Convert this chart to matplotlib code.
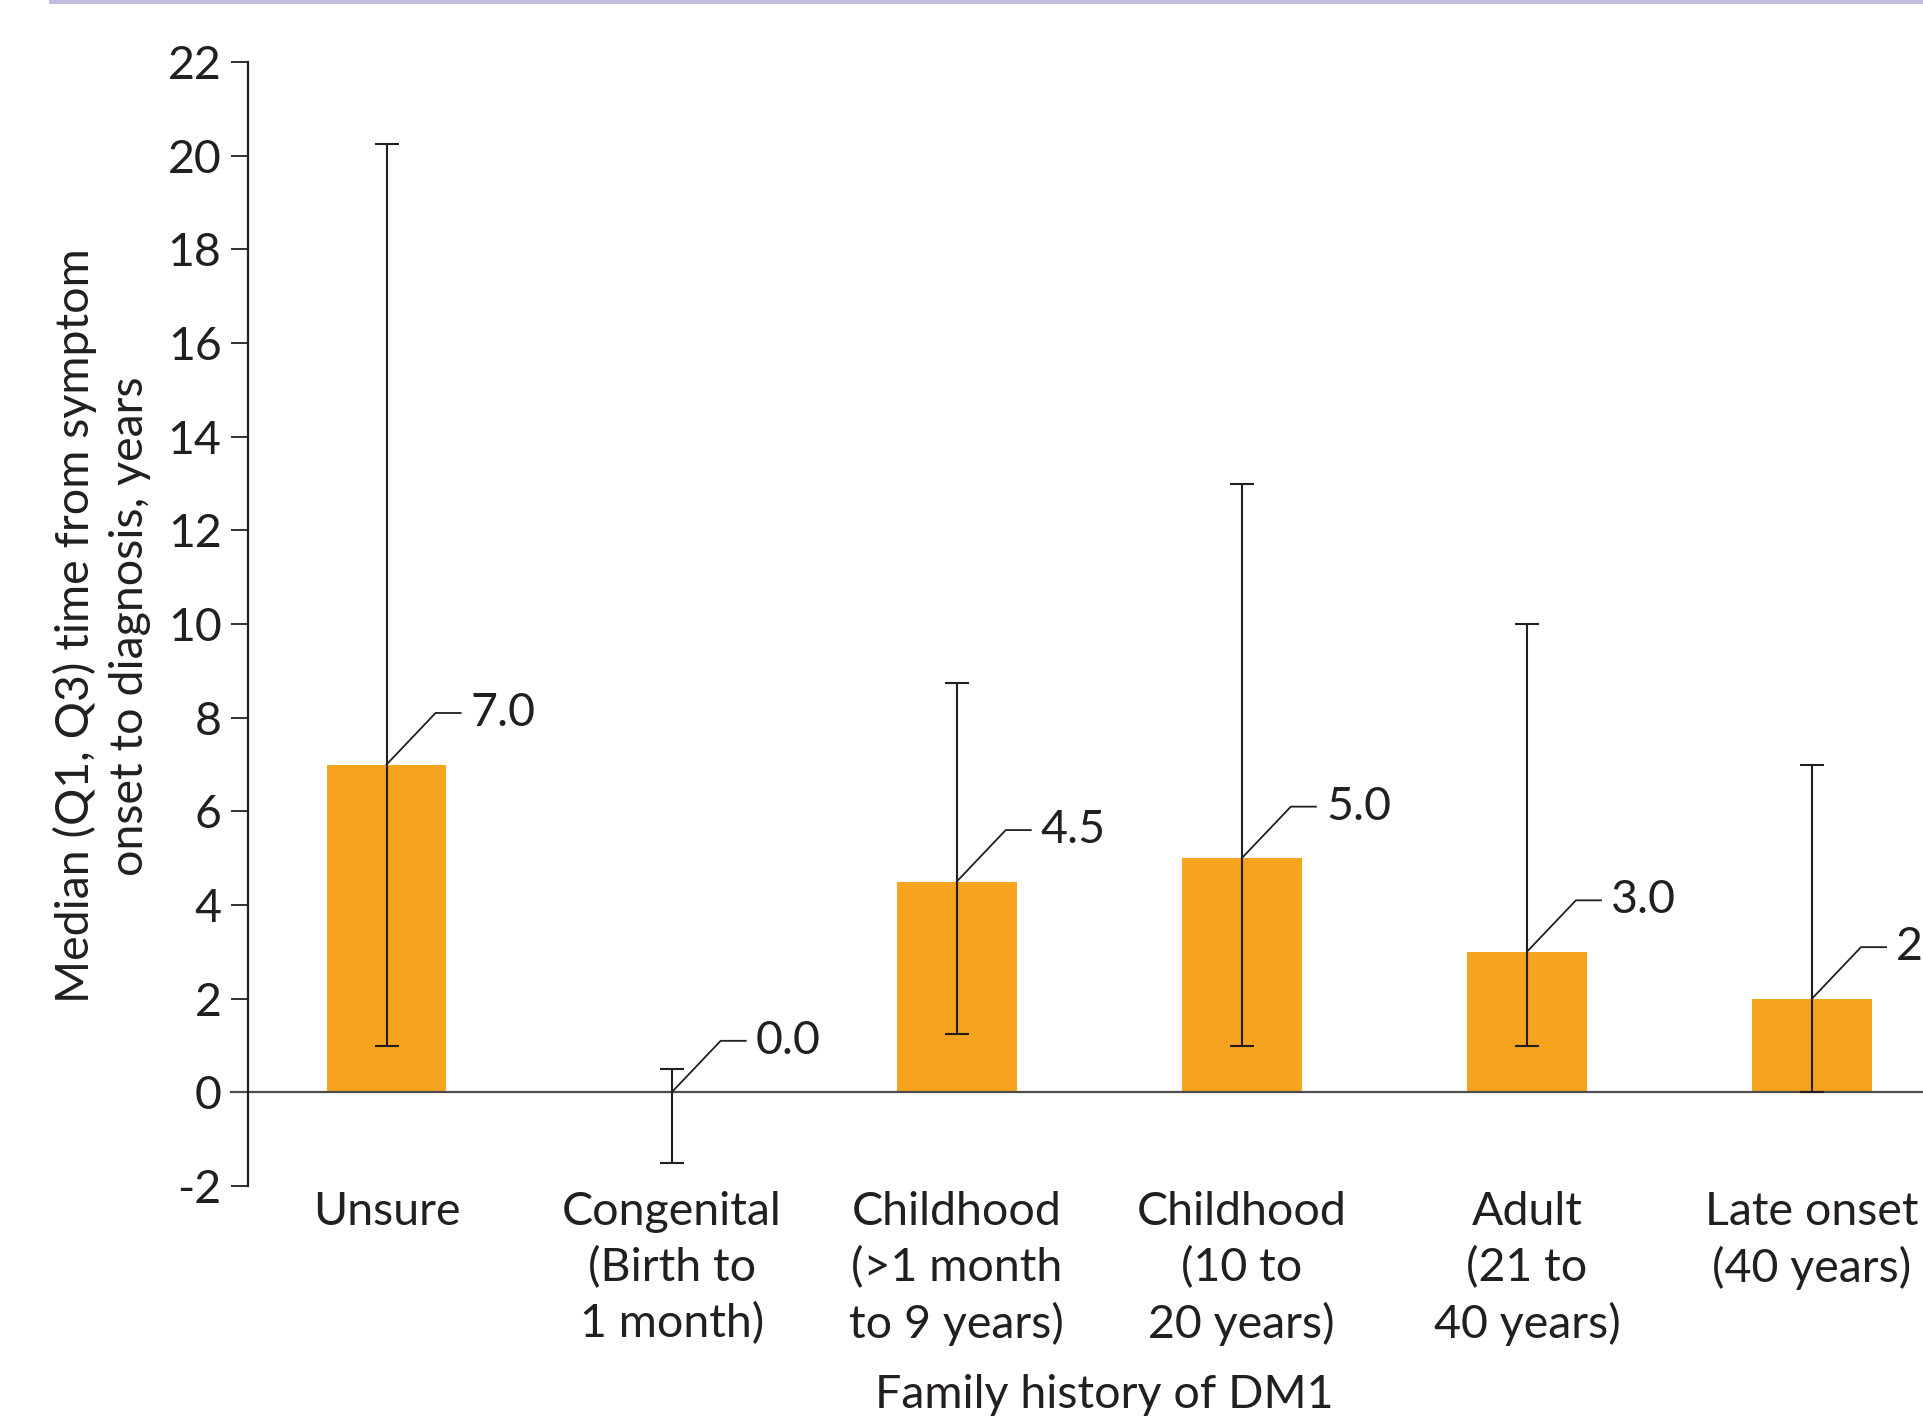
#!/usr/bin/env python3
"""Median time from symptom onset to diagnosis by family history of DM1."""

import matplotlib

matplotlib.use("Agg")
import matplotlib.pyplot as plt
from matplotlib.patches import Rectangle

categories = [
    "Unsure",
    "Congenital\n(Birth to\n1 month)",
    "Childhood\n(>1 month\nto 9 years)",
    "Childhood\n(10 to\n20 years)",
    "Adult\n(21 to\n40 years)",
    "Late onset\n(40 years)",
]
median = [7.0, 0.0, 4.5, 5.0, 3.0, 2.0]
q1 = [1.0, -1.5, 1.25, 1.0, 1.0, 0.0]
q3 = [20.25, 0.5, 8.75, 13.0, 10.0, 7.0]
yticks = list(range(-2, 23, 2))

BAR = "#F6A31E"
INK = "#231F20"
FONT = "Lato"
FS = 33.5
LS = 1.37

plt.rcParams["font.family"] = [FONT, "DejaVu Sans"]

W, H = 1924, 1419
fig = plt.figure(figsize=(W / 100, H / 100), dpi=100)
ax = fig.add_axes([248 / W, (H - 1186) / H, 1 - 248 / W, (1186 - 62) / H])

x = list(range(len(categories)))
ax.bar(x, median, width=0.42, color=BAR, zorder=1)
ax.axhline(0, xmin=-17 / (W - 248), xmax=1, color="#4d4d4d", linewidth=1.6,
           clip_on=False, zorder=2)
lower = [m - a for m, a in zip(median, q1)]
upper = [b - m for m, b in zip(median, q3)]
ax.errorbar(x, median, yerr=[lower, upper], fmt="none", ecolor=INK,
            elinewidth=1.5, capsize=8.5, capthick=1.5, zorder=3)

# leader lines and value labels
dx, dy, run = 0.172, 1.1, 0.088
for xi, m in zip(x, median):
    ax.plot([xi, xi + dx, xi + dx + run], [m, m + dy, m + dy],
            color=INK, linewidth=1.3, zorder=4, clip_on=False)
    ax.text(xi + dx + run + 0.035, m + dy, f"{m:.1f}", fontsize=FS,
            color=INK, ha="left", va="center", zorder=5)

ax.set_xlim(-0.486, 5.393)
ax.set_ylim(-2, 22)
ax.set_yticks(yticks)
ax.set_yticklabels([str(t) for t in yticks], fontsize=FS, color=INK)
ax.set_xticks(x)
ax.set_xticklabels(categories, fontsize=FS, color=INK, linespacing=LS)
ax.tick_params(axis="x", length=0, pad=3.5)
ax.tick_params(axis="y", length=12, width=1.3, color=INK, pad=7)

for side in ("top", "right", "bottom"):
    ax.spines[side].set_visible(False)
ax.spines["left"].set_color(INK)
ax.spines["left"].set_linewidth(1.6)

fig.text(102 / W, 1 - 626 / H,
         "Median (Q1, Q3) time from symptom\nonset to diagnosis, years",
         rotation=90, ha="center", va="center", fontsize=FS, color=INK,
         linespacing=LS)
fig.text(1104 / W, 1 - 1395 / H, "Family history of DM1", ha="center",
         va="center", fontsize=FS, color=INK)

# thin lavender rule along the top edge
fig.add_artist(Rectangle((49 / W, 1 - 4 / H), 1 - 49 / W, 4 / H,
                         transform=fig.transFigure, color="#C2BBDD", lw=0))

fig.savefig("out.png", dpi=100)
